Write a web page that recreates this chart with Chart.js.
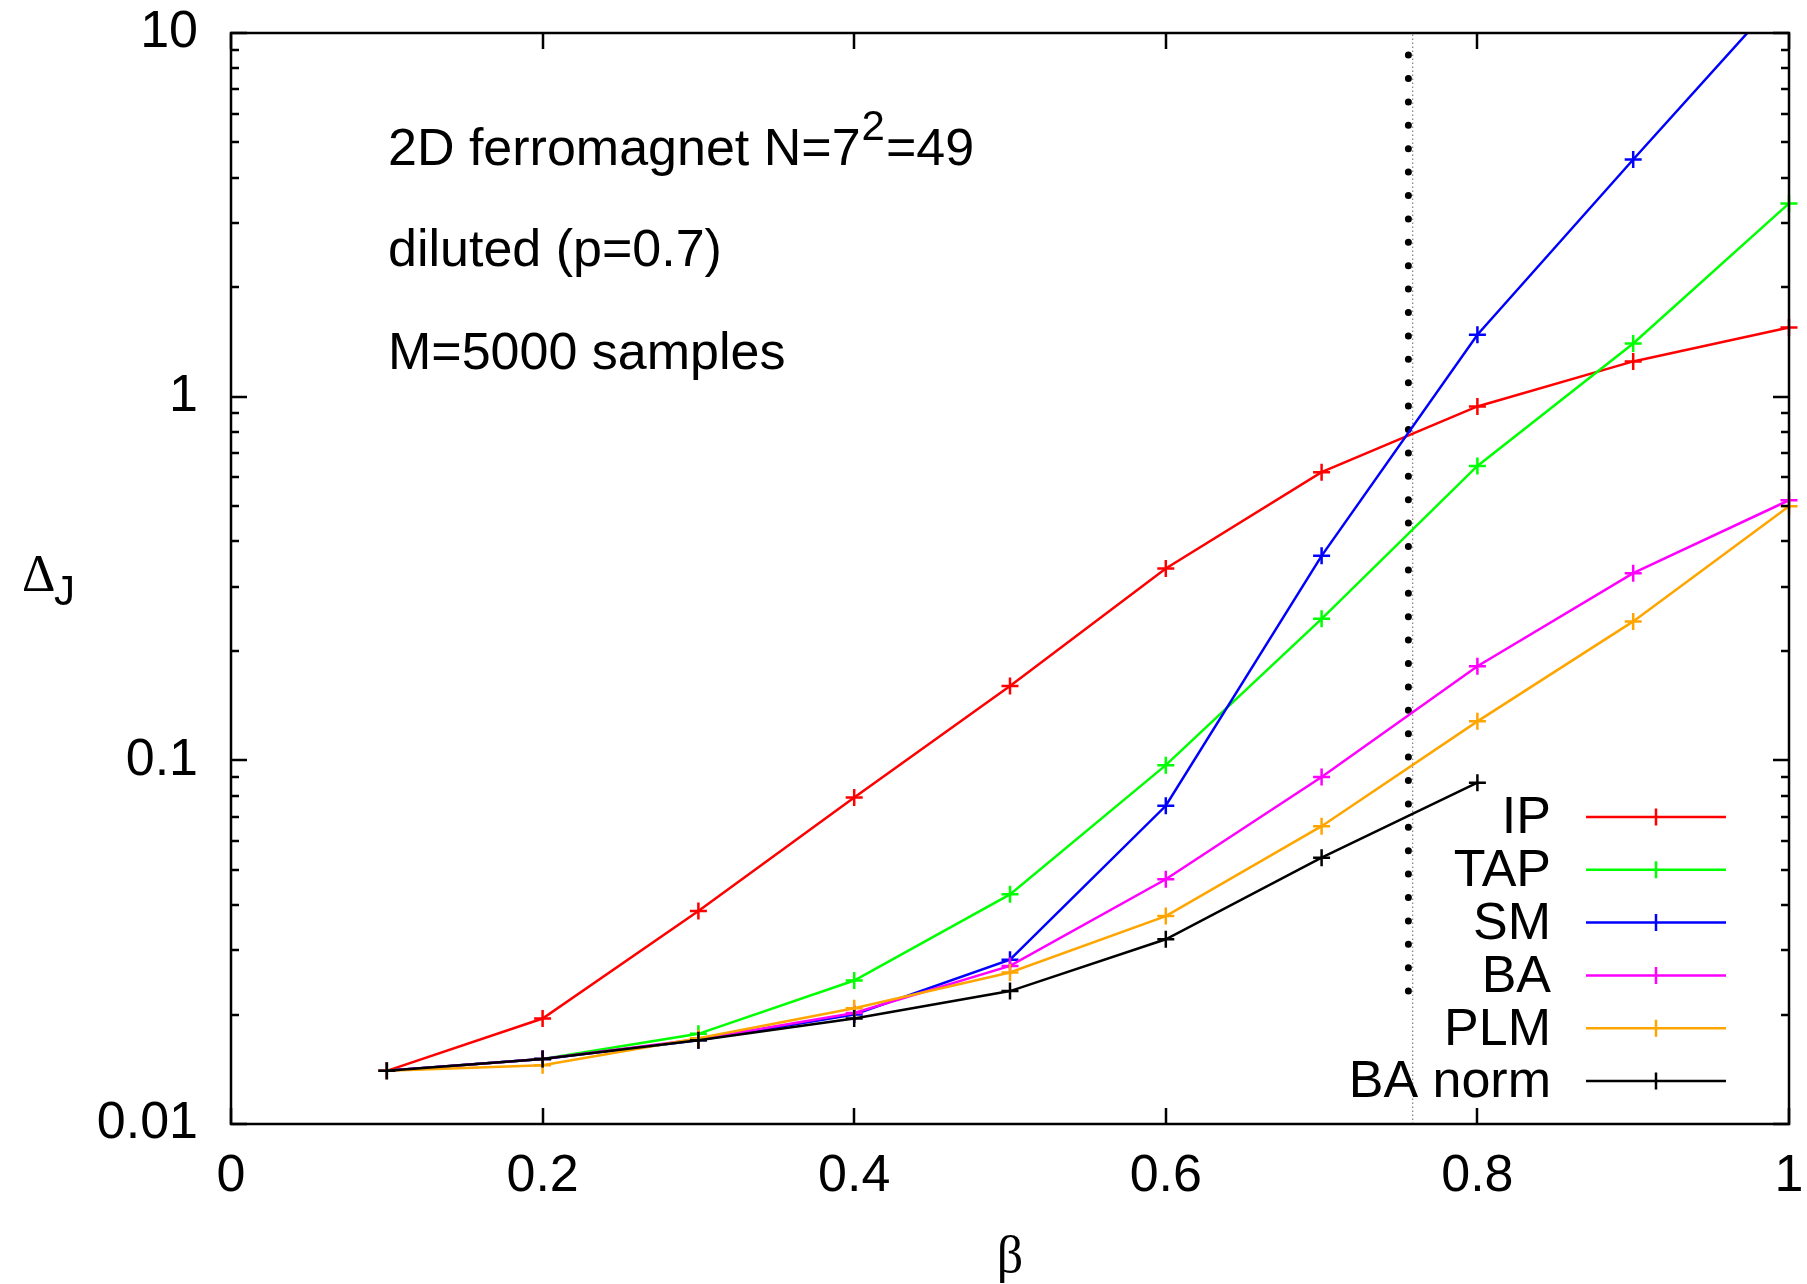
<!DOCTYPE html>
<html>
<head>
<meta charset="utf-8">
<script src="https://cdn.jsdelivr.net/npm/chart.js@4"></script>
<style>
  html, body { margin: 0; padding: 0; background: #fff; }
  canvas { display: block; }
</style>
</head>
<body>
<canvas id="myChart" width="1807" height="1284"></canvas>
<script>
// inverse temperature values
const beta = [0.1, 0.2, 0.3, 0.4, 0.5, 0.6, 0.7, 0.8, 0.9, 1.0];

// reconstruction error for each method
const errIP = [0.0140, 0.0195, 0.0385, 0.079, 0.160, 0.337, 0.62, 0.94, 1.25, 1.55];
const errTAP = [0.0140, 0.0151, 0.0177, 0.0248, 0.0428, 0.097, 0.245, 0.645, 1.40, 3.40];
const errSM = [0.0140, 0.0151, 0.0170, 0.0200, 0.0283, 0.075, 0.365, 1.48, 4.49, 13.4];
const errBA = [0.0140, 0.0151, 0.0171, 0.0202, 0.0272, 0.0471, 0.090, 0.1815, 0.327, 0.519];
const errPLM = [0.0140, 0.0145, 0.0172, 0.0208, 0.0261, 0.0373, 0.0659, 0.128, 0.241, 0.500];
const errBAnorm = [0.0140, 0.0151, 0.0170, 0.0195, 0.0232, 0.0322, 0.054, 0.0868];

const seriesNames = ['IP', 'TAP', 'SM', 'BA', 'PLM', 'BA norm'];
const seriesColors = ['#ff0000', '#00ff00', '#0000ff', '#ff00ff', '#ffa500', '#000000'];

// critical point markers
const betaDots = 0.7557;
const dotsRange = [0.0232, 8.70];
const betaThin = 0.7585;

const xTicks = [0, 0.2, 0.4, 0.6, 0.8, 1];
const yTicks = [0.01, 0.1, 1, 10];

const FONT = '"Liberation Sans", Arial, Helvetica, sans-serif';
const SERIF = '"Liberation Serif", "Times New Roman", serif';
const FS = 52;

function toPoints(ys) {
    return ys.map((y, i) => ({ x: beta[i], y: y }));
}

const allSeries = [errIP, errTAP, errSM, errBA, errPLM, errBAnorm];

const datasets = allSeries.map((ys, i) => ({
    label: seriesNames[i],
    data: toPoints(ys),
    borderColor: seriesColors[i],
    backgroundColor: seriesColors[i],
    borderWidth: 2.5,
    pointStyle: 'cross',
    pointRadius: 8.5,
    pointBorderWidth: 2.5,
    pointHoverRadius: 8.5,
    tension: 0,
    fill: false,
    order: allSeries.length - i,
    clip: { left: 12, right: 12, top: 0, bottom: 12 }
}));

// thick dotted line
datasets.push({
    label: '',
    data: [{ x: betaDots, y: dotsRange[0] }, { x: betaDots, y: dotsRange[1] }],
    borderColor: '#000',
    borderWidth: 7,
    borderDash: [0, 23.4],
    borderCapStyle: 'round',
    pointRadius: 0,
    fill: false,
    order: 20
});
// thin dotted line over the full height
datasets.push({
    label: '',
    data: [{ x: betaThin, y: 0.01 }, { x: betaThin, y: 10 }],
    borderColor: '#666',
    borderWidth: 1,
    borderDash: [1.5, 2.5],
    pointRadius: 0,
    fill: false,
    order: 21
});

// frame, inward ticks, labels, legend
const decor = {
    id: 'decor',
    afterDatasetsDraw(chart) {
        const c = chart.ctx;
        const a = chart.chartArea;
        const xs = chart.scales.x;
        const ys = chart.scales.y;
        c.save();
        c.strokeStyle = '#000';
        c.lineWidth = 2.5;

        // y ticks, major and minor, both sides
        for (let e = -2; e <= 1; e++) {
            for (let k = 1; k <= 9; k++) {
                const v = k * Math.pow(10, e);
                if (v > 10.0001) break;
                const p = Math.round(ys.getPixelForValue(v));
                const len = k === 1 ? 16 : 8;
                c.beginPath();
                c.moveTo(a.left, p); c.lineTo(a.left + len, p);
                c.moveTo(a.right, p); c.lineTo(a.right - len, p);
                c.stroke();
            }
        }
        // x ticks, top and bottom
        xTicks.forEach(v => {
            const p = Math.round(xs.getPixelForValue(v));
            c.beginPath();
            c.moveTo(p, a.bottom); c.lineTo(p, a.bottom - 16);
            c.moveTo(p, a.top); c.lineTo(p, a.top + 16);
            c.stroke();
        });
        c.strokeRect(a.left, a.top, a.right - a.left, a.bottom - a.top);

        // legend
        c.font = FS + 'px ' + FONT;
        c.textBaseline = 'middle';
        c.textAlign = 'right';
        chart.data.datasets.forEach((ds, i) => {
            if (!ds.label) return;
            const y = 817 + 52.8 * i;
            c.fillStyle = '#000';
            c.fillText(ds.label, 1551, y + 2);
            c.strokeStyle = ds.borderColor;
            c.lineWidth = 2.5;
            c.beginPath();
            c.moveTo(1586, y); c.lineTo(1726, y);
            c.moveTo(1656, y - 8.5); c.lineTo(1656, y + 8.5);
            c.stroke();
        });

        // annotation text
        c.fillStyle = '#000';
        c.textAlign = 'left';
        c.textBaseline = 'alphabetic';
        const tx = 388;
        const s1 = '2D ferromagnet N=7';
        c.fillText(s1, tx, 165);
        const w1 = c.measureText(s1).width;
        c.font = Math.round(FS * 0.8) + 'px ' + FONT;
        c.fillText('2', tx + w1 + 1, 140);
        const w2 = c.measureText('2').width;
        c.font = FS + 'px ' + FONT;
        c.fillText('=49', tx + w1 + w2 + 2, 165);
        c.fillText('diluted (p=0.7)', tx, 266);
        c.fillText('M=5000 samples', tx, 369);

        // axis titles
        c.font = FS + 'px ' + SERIF;
        c.fillText('\u0394', 22, 591);
        c.font = Math.round(FS * 0.8) + 'px ' + FONT;
        c.fillText('J', 54, 605);
        c.font = FS + 'px ' + SERIF;
        c.textAlign = 'center';
        c.fillText('\u03b2', (a.left + a.right) / 2, 1272);
        c.restore();
    }
};

const ctx = document.getElementById('myChart');

new Chart(ctx, {
    type: 'line',
    data: { datasets: datasets },
    options: {
        responsive: false,
        animation: false,
        devicePixelRatio: 1,
        layout: { padding: { top: 33, right: 18, left: 0, bottom: 0 } },
        plugins: {
            legend: { display: false },
            tooltip: { enabled: false }
        },
        scales: {
            x: {
                type: 'linear',
                min: 0,
                max: 1,
                grid: { display: false, drawTicks: false },
                border: { display: false },
                ticks: {
                    color: '#000',
                    font: { family: FONT, size: FS },
                    padding: 21,
                    maxRotation: 0,
                    autoSkip: false,
                    callback: v => String(parseFloat(v.toFixed(1)))
                },
                afterBuildTicks: axis => { axis.ticks = xTicks.map(v => ({ value: v })); },
                afterFit: axis => {
                    axis.height = 160;
                    axis.paddingLeft = 0;
                    axis.paddingRight = 0;
                }
            },
            y: {
                type: 'logarithmic',
                min: 0.01,
                max: 10,
                grid: { display: false, drawTicks: false },
                border: { display: false },
                ticks: {
                    color: '#000',
                    font: { family: FONT, size: FS },
                    padding: 33,
                    autoSkip: false,
                    callback: v => String(v)
                },
                afterBuildTicks: axis => { axis.ticks = yTicks.map(v => ({ value: v })); },
                afterFit: axis => {
                    axis.width = 231;
                    axis.paddingTop = 0;
                    axis.paddingBottom = 0;
                }
            }
        }
    },
    plugins: [decor]
});
</script>
</body>
</html>
